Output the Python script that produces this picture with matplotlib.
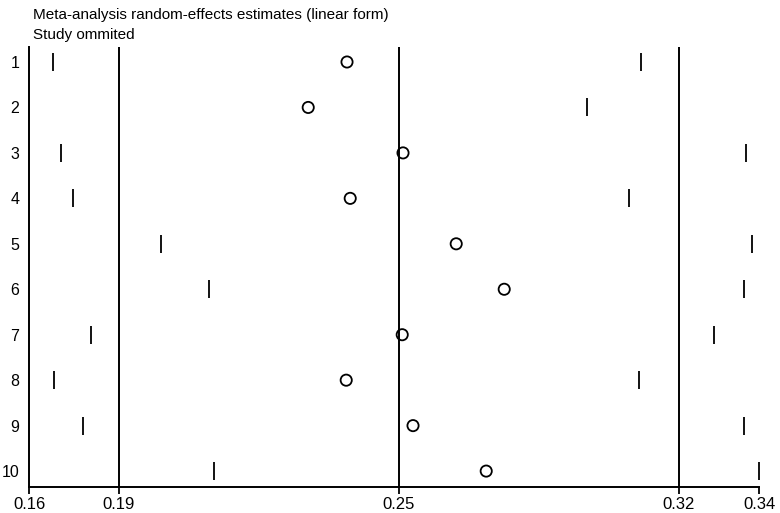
import matplotlib.pyplot as plt

plt.rcParams['font.family'] = ['Liberation Sans', 'DejaVu Sans']

# study omitted -> estimate with lower / upper CI bounds
studies = [1, 2, 3, 4, 5, 6, 7, 8, 9, 10]
estimate = [0.2370, 0.2273, 0.2510, 0.2378, 0.2643, 0.2763, 0.2508, 0.2368, 0.2535, 0.2718]
lower = [0.1634, 0.1550, 0.1654, 0.1686, 0.1905, 0.2025, 0.1729, 0.1637, 0.1709, 0.2038]
upper = [0.3104, 0.2969, 0.3367, 0.3074, 0.3382, 0.3363, 0.3287, 0.3100, 0.3363, 0.3400]

# overall estimate and CI (vertical lines), axis ends
overall = [0.18, 0.25, 0.32]
tick_pos = [0.1575, 0.18, 0.25, 0.32, 0.34]
tick_labels = ["0.16", "0.19", "0.25", "0.32", "0.34"]

fig = plt.figure(figsize=(7.8, 5.13), dpi=100)
ax = fig.add_axes([0.0372, 0.0507, 0.9359, 0.8577])

for v in overall:
    ax.axvline(v, color="black", lw=1.4, zorder=1)

ax.scatter(lower, studies, marker="|", s=170, color="black", linewidths=1.3, zorder=3)
ax.scatter(upper, studies, marker="|", s=170, color="black", linewidths=1.3, zorder=3)
ax.scatter(estimate, studies, marker="o", s=65, facecolors="none",
           edgecolors="black", linewidths=1.3, zorder=3)

ax.set_xlim(tick_pos[0], tick_pos[-1])
ax.set_ylim(10.35, 0.67)
ax.set_xticks(tick_pos)
ax.set_xticklabels(tick_labels, fontsize=12)
ax.set_yticks(studies)
ax.set_yticklabels([str(s) for s in studies], fontsize=11.5)
ax.tick_params(axis="y", length=0, pad=7)
ax.tick_params(axis="x", length=5, width=1.3, pad=2)

ax.spines["top"].set_visible(False)
ax.spines["right"].set_visible(False)
ax.spines["left"].set_linewidth(1.4)
ax.spines["bottom"].set_linewidth(1.4)

fig.text(0.042, 0.985, "Meta-analysis random-effects estimates (linear form)",
         fontsize=11, va="top", ha="left")
fig.text(0.042, 0.945, "Study ommited", fontsize=11, va="top", ha="left")

plt.savefig("out.png", dpi=100)
